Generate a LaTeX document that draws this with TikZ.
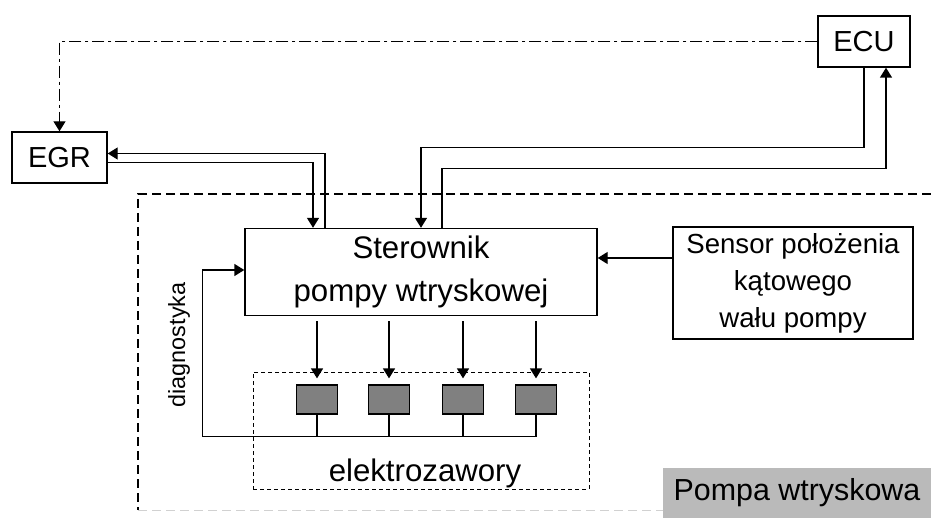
\documentclass[tikz,border=0pt]{standalone}
\usepackage{fontspec}
\setmainfont{Liberation Sans}
\usetikzlibrary{positioning,arrows.meta,calc}
\tikzset{
  >={Triangle[length=5pt,width=6pt]},
  blok/.style={rectangle,draw,line width=0.7pt,align=center,inner sep=0pt},
  zawor/.style={rectangle,draw,line width=0.6pt,fill=black!50,minimum width=20.5pt,minimum height=14.5pt,inner sep=0pt},
  linia/.style={line width=0.7pt},
  strzalka/.style={->,line width=0.7pt},
  kreskopunkt/.style={line width=0.6pt,dash pattern=on 6pt off 2pt on 1.5pt off 2pt},
  duzy/.style={font=\fontsize{15.6}{21.5}\selectfont},
  sredni/.style={font=\fontsize{14.5}{17}\selectfont},
  maly/.style={font=\fontsize{13.8}{18.5}\selectfont}
}
\begin{document}
\begin{tikzpicture}[x=0.5pt,y=-0.5pt]
    \useasboundingbox (0,0) rectangle (931,518);
    % Obudowa pompy
    \draw[line width=0.7pt,dash pattern=on 4.5pt off 2.5pt] (931,194) -- (138,194) -- (138,510);
    \draw[line width=0.5pt,black!18,dash pattern=on 4.5pt off 2.5pt] (138,510) -- (663,510);
    \node[fill=black!27,minimum width=134pt,minimum height=25pt,inner sep=0pt,font=\fontsize{15.2}{18}\selectfont] (pompa) at (797,493) {Pompa wtryskowa};

    % Bloki
    \node[blok,sredni,minimum width=47.5pt,minimum height=25.5pt] (egr) at (59.5,157.5) {EGR};
    \node[blok,sredni,minimum width=46pt,minimum height=25.5pt] (ecu) at (864,41.5) {ECU};
    \node[blok,duzy,minimum width=176pt,minimum height=43.5pt] (ster) at (421,272) {Sterownik\\pompy wtryskowej};
    \node[blok,maly,minimum width=120pt,minimum height=56pt] (sensor) at (793,283) {Sensor położenia\\kątowego\\wału pompy};

    % Elektrozawory
    \node[draw,line width=0.5pt,dash pattern=on 2pt off 1.5pt,minimum width=168pt,minimum height=58.5pt] (grupa) at (421,430.5) {};
    \node[duzy] (elz) at (425,473) {elektrozawory};
    \foreach \i/\x in {1/317,2/389,3/463,4/536}
        \node[zawor] (v\i) at (\x,399.5) {};
    \foreach \i in {1,...,4}
        \draw[strzalka,shorten <=2.5pt,shorten >=3pt] (v\i |- ster.south) -- (v\i.north);

    % Diagnostyka
    \draw[linia] (v4.south) -- ++(0,22) -| ($(ster.west)+(-42,-2)$);
    \draw[strzalka] ($(ster.west)+(-42,-2)$) -- ($(ster.west)+(0,-2)$);
    \foreach \i in {1,2,3}
        \draw[linia] (v\i.south) -- ++(0,22);
    \node[rotate=90,font=\fontsize{11.7}{14}\selectfont] (diag) at (179,345) {diagnostyka};

    % Polaczenia
    \draw[kreskopunkt,->] (ecu.west) -| (egr.north);
    \draw[strzalka] ($(ster.north)+(-96,0)$) |- ($(egr.east)+(0,-4)$);
    \draw[strzalka] ($(egr.east)+(0,5)$) -| ($(ster.north)+(-108,0)$);
    \draw[strzalka] (ecu.south) |- ($(ster.north)+(0,-80)$) -- (ster.north);
    \draw[strzalka] ($(ster.north)+(21,0)$) -- ++(0,-59) -| ($(ecu.south)+(22,0)$);
    \draw[strzalka] ($(sensor.west)+(0,-25)$) -- ($(ster.east)+(0,-14)$);
\end{tikzpicture}
\end{document}
